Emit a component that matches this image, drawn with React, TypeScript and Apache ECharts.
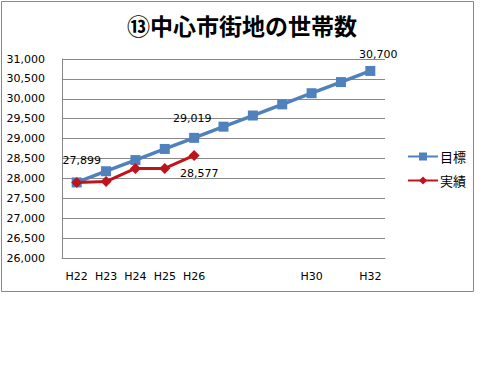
import React, { useEffect, useRef } from "react";
import * as echarts from "echarts";

const categories = ["H22", "H23", "H24", "H25", "H26", "H27", "H28", "H29", "H30", "H31", "H32"];
const shownTicks = ["H22", "H23", "H24", "H25", "H26", "H30", "H32"];
const targetValues = [27899, 28180, 28460, 28740, 29019, 29300, 29580, 29860, 30140, 30420, 30700];
const actualValues = [27899, 27920, 28250, 28250, 28577];
const yMin = 26000;
const yMax = 31000;
const yStep = 500;

const fmt = (v: number) => v.toLocaleString("en-US");
const FONT = "DejaVu Sans";

export default function App() {
  const ref = useRef<HTMLDivElement>(null);
  useEffect(() => {
    document.body.style.margin = "0";
    const chart = echarts.init(ref.current!, null, { renderer: "svg" });
    const labelStyle = { color: "#000", fontSize: 11, fontFamily: FONT };
    chart.setOption({
      animation: false,
      backgroundColor: "#fff",
      title: {
        text: "⑬中心市街地の世帯数",
        left: 237,
        textAlign: "center",
        top: 8,
        textStyle: { fontSize: 23, fontWeight: "bold", color: "#000", fontFamily: "Noto Sans CJK JP" },
      },
      graphic: [
        {
          type: "rect",
          shape: { x: 1.5, y: 1.5, width: 472, height: 290 },
          style: { fill: "none", stroke: "#888", lineWidth: 1 },
          silent: true,
        },
      ],
      legend: {
        orient: "vertical",
        left: 402,
        top: 145,
        itemGap: 11,
        itemWidth: 30,
        itemHeight: 10,
        textStyle: { color: "#000", fontSize: 13, fontFamily: "Noto Sans CJK JP", padding: [0, 0, 0, -3] },
        data: ["目標", "実績"],
      },
      grid: { left: 62, right: 115, top: 59, bottom: 117, containLabel: false },
      xAxis: {
        type: "category",
        data: categories,
        boundaryGap: true,
        axisLine: { lineStyle: { color: "#888" } },
        axisTick: { show: false },
        axisLabel: {
          interval: 0,
          margin: 13,
          color: "#000",
          fontSize: 11,
          fontFamily: FONT,
          formatter: (v: string) => (shownTicks.includes(v) ? v : ""),
        },
      },
      yAxis: {
        type: "value",
        min: yMin,
        max: yMax,
        interval: yStep,
        axisLine: { show: true, lineStyle: { color: "#888" } },
        axisTick: { show: false },
        splitLine: { lineStyle: { color: "#888" } },
        axisLabel: {
          margin: 17,
          color: "#000",
          fontSize: 11,
          fontFamily: FONT,
          formatter: (v: number) => fmt(v),
        },
      },
      series: [
        {
          name: "目標",
          type: "line",
          data: targetValues.map((v, i) => {
            if (i === 4) return { value: v, label: { show: true, position: "top", offset: [-2, -4] } };
            if (i === 10) return { value: v, label: { show: true, position: "top", offset: [8, -1] } };
            return v;
          }),
          color: "#4F81BD",
          lineStyle: { width: 3.5, color: "#4F81BD" },
          symbol: "rect",
          symbolSize: 10,
          itemStyle: { color: "#4F81BD" },
          label: { show: false, ...labelStyle, formatter: (p: any) => fmt(p.value) },
          z: 2,
        },
        {
          name: "実績",
          type: "line",
          data: actualValues.map((v, i) => {
            if (i === 0) return { value: v, label: { show: true, position: "top", offset: [5, -6] } };
            if (i === 4) return { value: 28577, label: { show: true, position: "bottom", offset: [5, 2] } };
            return v;
          }),
          color: "#C0141C",
          lineStyle: { width: 3, color: "#C0141C" },
          symbol: "diamond",
          symbolSize: 11,
          itemStyle: { color: "#C0141C" },
          label: { show: false, ...labelStyle, formatter: (p: any) => fmt(p.value) },
          z: 3,
        },
      ],
    });
    return () => chart.dispose();
  }, []);
  return <div ref={ref} style={{ position: "absolute", left: 0, top: 0, width: 500, height: 375 }} />;
}
